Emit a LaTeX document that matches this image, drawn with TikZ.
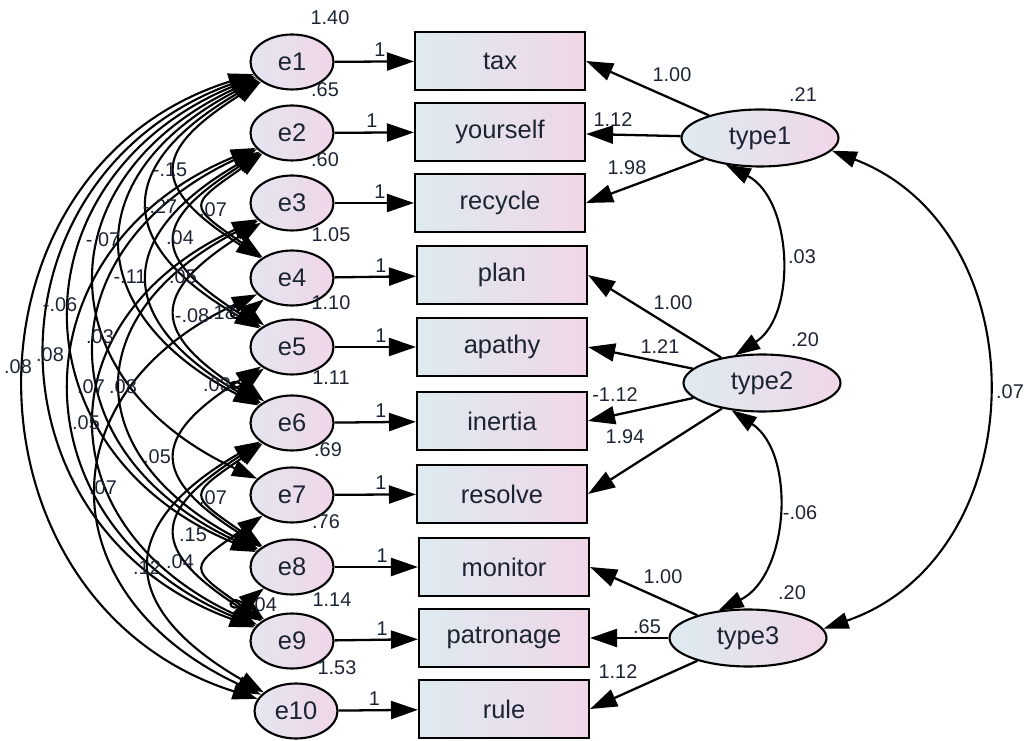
\documentclass[tikz,border=0pt]{standalone}
\usepackage{fontspec}
\setmainfont{Liberation Sans}
\usetikzlibrary{arrows.meta}
\usetikzlibrary{shapes}

\definecolor{boxleft}{RGB}{222,235,240}
\definecolor{boxright}{RGB}{240,214,232}
\definecolor{ovleft}{RGB}{228,229,240}
\definecolor{numcol}{RGB}{28,36,52}

\tikzset{
  obsvar/.style={draw, line width=1.2pt, rectangle, minimum width=3.4cm, minimum height=1.16cm,
    left color=boxleft, right color=boxright, font=\fontsize{14.5}{16}\selectfont, text=numcol},
  errvar/.style={draw, line width=1.2pt, ellipse, inner sep=0pt, minimum width=1.66cm, minimum height=1.1cm,
    left color=ovleft, right color=boxright, font=\fontsize{14.5}{16}\selectfont, text=numcol},
  latvar/.style={errvar, minimum width=3.14cm, minimum height=1.14cm, left color=boxleft},
  est/.style={font=\fontsize{11.3}{13}\selectfont, text=numcol, inner sep=0pt},
  regpath/.style={-{Triangle[length=0.54cm, width=0.36cm]}, line width=1.3pt},
  covpath/.style={{Triangle[length=0.5cm, width=0.33cm]}-{Triangle[length=0.5cm, width=0.33cm]}, line width=1.2pt},
  covspan/.code={%
    \pgfmathsetmacro\cova{40-2.5*#1}%
    \pgfmathsetmacro\covout{180+\cova}%
    \pgfmathsetmacro\covin{180-\cova}%
    \pgfmathsetmacro\covd{0.569*(29*#1-0.4*#1*#1)/(0.75*cos(\cova))}%
    \edef\covtmp{\noexpand\tikzset{out=\covout, in=\covin, distance=\covd pt}}\covtmp
  },
}

\begin{document}
\begin{tikzpicture}[x=0.02cm, y=0.02cm]
        \useasboundingbox (0,0) rectangle (1030,740);

        \draw (500,679) node[obsvar] (tax) {tax};
        \draw (500,608) node[obsvar] (yourself) {yourself};
        \draw (500,537) node[obsvar] (recycle) {recycle};
        \draw (502,465) node[obsvar] (plan) {plan};
        \draw (502,393) node[obsvar] (apathy) {apathy};
        \draw (502,319) node[obsvar] (inertia) {inertia};
        \draw (502,246) node[obsvar] (resolve) {resolve};
        \draw (504,173) node[obsvar] (monitor) {monitor};
        \draw (504,102) node[obsvar] (patronage) {patronage};
        \draw (504,31) node[obsvar] (rule) {rule};

        \draw (292,678) node[errvar] (e1) {e1};
        \draw (292,607) node[errvar] (e2) {e2};
        \draw (292,537) node[errvar] (e3) {e3};
        \draw (292,462) node[errvar] (e4) {e4};
        \draw (292,393) node[errvar] (e5) {e5};
        \draw (292,317) node[errvar] (e6) {e6};
        \draw (292,245) node[errvar] (e7) {e7};
        \draw (292,173) node[errvar] (e8) {e8};
        \draw (292,99) node[errvar] (e9) {e9};
        \draw (296,29) node[errvar] (e10) {e10};

        \draw (760,602) node[latvar] (type1) {type1};
        \draw (762,357) node[latvar] (type2) {type2};
        \draw (748,102) node[latvar] (type3) {type3};

        \draw[regpath] (e1) -- node[est, pos=0.57, above=2pt] (o1) {1} (tax);
        \draw[regpath] (e2) -- node[est, pos=0.47, above=2pt] (o2) {1} (yourself);
        \draw[regpath] (e3) -- node[est, pos=0.57, above=2pt] (o3) {1} (recycle);
        \draw[regpath] (e4) -- node[est, pos=0.57, above=2pt] (o4) {1} (plan);
        \draw[regpath] (e5) -- node[est, pos=0.57, above=2pt] (o5) {1} (apathy);
        \draw[regpath] (e6) -- node[est, pos=0.57, above=2pt] (o6) {1} (inertia);
        \draw[regpath] (e7) -- node[est, pos=0.57, above=2pt] (o7) {1} (resolve);
        \draw[regpath] (e8) -- node[est, pos=0.57, above=2pt] (o8) {1} (monitor);
        \draw[regpath] (e9) -- node[est, pos=0.57, above=2pt] (o9) {1} (patronage);
        \draw[regpath] (e10) -- node[est, pos=0.45, above=2pt] (o10) {1} (rule);

        \draw[regpath] (type1) -- (tax.east);
        \draw[regpath] (type1) -- (yourself);
        \draw[regpath] (type1) -- (recycle.east);
        \draw[regpath] (type2) -- (plan.east);
        \draw[regpath] (type2) -- (apathy.east);
        \draw[regpath] (type2) -- (inertia.east);
        \draw[regpath] (type2) -- (resolve.east);
        \draw[regpath] (type3) -- (monitor.east);
        \draw[regpath] (type3) -- (patronage);
        \draw[regpath] (type3) -- (rule.east);

        \draw[covpath] (type1.218) to[bend left=60] (type2.134);
        \draw[covpath] (type2.222) to[bend left=60] (type3.137);
        \draw[covpath] (type1.-10) to[bend left=70, looseness=1.2] (type3.7);

        \draw[covpath] (e1) to[covspan=9] (e10);
        \draw[covpath] (e1) to[covspan=8] (e9);
        \draw[covpath] (e1) to[covspan=7] (e8);
        \draw[covpath] (e1) to[covspan=6] (e7);
        \draw[covpath] (e1) to[covspan=5] (e6);
        \draw[covpath] (e1) to[covspan=4] (e5);
        \draw[covpath] (e1) to[covspan=3] (e4);
        \draw[covpath] (e2) to[covspan=2] (e4);
        \draw[covpath] (e2) to[covspan=3] (e5);
        \draw[covpath] (e2) to[covspan=4] (e6);
        \draw[covpath] (e2) to[covspan=6] (e8);
        \draw[covpath] (e2) to[covspan=7] (e9);
        \draw[covpath] (e3) to[covspan=3] (e6);
        \draw[covpath] (e3) to[covspan=5] (e8);
        \draw[covpath] (e3) to[covspan=6] (e9);
        \draw[covpath] (e4) to[covspan=1] (e5);
        \draw[covpath] (e4) to[covspan=6] (e10);
        \draw[covpath] (e5) to[covspan=1] (e6);
        \draw[covpath] (e5) to[covspan=3] (e8);
        \draw[covpath] (e6) to[covspan=2] (e8);
        \draw[covpath] (e6) to[covspan=3] (e9);
        \draw[covpath] (e6) to[covspan=4] (e10);
        \draw[covpath] (e7) to[covspan=2] (e9);
        \draw[covpath] (e8) to[covspan=1] (e9);

        % variances
        \draw (330,722) node[est] (v1) {1.40};
        \draw (325,650) node[est] (v2) {.65};
        \draw (325,580) node[est] (v3) {.60};
        \draw (331,505) node[est] (v4) {1.05};
        \draw (331,437) node[est] (v5) {1.10};
        \draw (331,362) node[est] (v6) {1.11};
        \draw (328,290) node[est] (v7) {.69};
        \draw (326,218) node[est] (v8) {.76};
        \draw (332,140) node[est] (v9) {1.14};
        \draw (337,72) node[est] (v10) {1.53};
        \draw (803,645) node[est] (vt1) {.21};
        \draw (805,400) node[est] (vt2) {.20};
        \draw (792,147) node[est] (vt3) {.20};

        % loadings and latent covariances
        \draw (672,665) node[est] (w1) {1.00};
        \draw (613,620) node[est] (w2) {1.12};
        \draw (627,572) node[est] (w3) {1.98};
        \draw (673,437) node[est] (w4) {1.00};
        \draw (660,393) node[est] (w5) {1.21};
        \draw (615,345) node[est] (w6) {-1.12};
        \draw (625,303) node[est] (w7) {1.94};
        \draw (663,163) node[est] (w8) {1.00};
        \draw (647,113) node[est] (w9) {.65};
        \draw (618,68) node[est] (w10) {1.12};
        \draw (802,483) node[est] (r12) {.03};
        \draw (800,227) node[est] (r23) {-.06};
        \draw (1010,348) node[est] (r13) {.07};

        % error covariances
        \draw (170,570) node[est] (c1) {-.15};
        \draw (160,533) node[est] (c2) {-.27};
        \draw (213,530) node[est] (c3) {.07};
        \draw (180,502) node[est] (c4) {.04};
        \draw (103,500) node[est] (c5) {-.07};
        \draw (130,463) node[est] (c6) {-.11};
        \draw (183,463) node[est] (c7) {.05};
        \draw (60,435) node[est] (c8) {-.06};
        \draw (192,424) node[est] (c9) {-.08};
        \draw (222,427) node[est] (c10) {.18};
        \draw (100,403) node[est] (c11) {.03};
        \draw (18,373) node[est] (c12) {.08};
        \draw (50,385) node[est] (c13) {.08};
        \draw (91,353) node[est] (c14) {.07};
        \draw (123,353) node[est] (c15) {.08};
        \draw (86,317) node[est] (c16) {.05};
        \draw (217,355) node[est] (c17) {.03};
        \draw (157,283) node[est] (c18) {.05};
        \draw (103,252) node[est] (c19) {.07};
        \draw (213,242) node[est] (c20) {.07};
        \draw (193,205) node[est] (c21) {.15};
        \draw (147,172) node[est] (c22) {.12};
        \draw (180,178) node[est] (c23) {.04};
        \draw (263,135) node[est] (c24) {.04};
\end{tikzpicture}
\end{document}
